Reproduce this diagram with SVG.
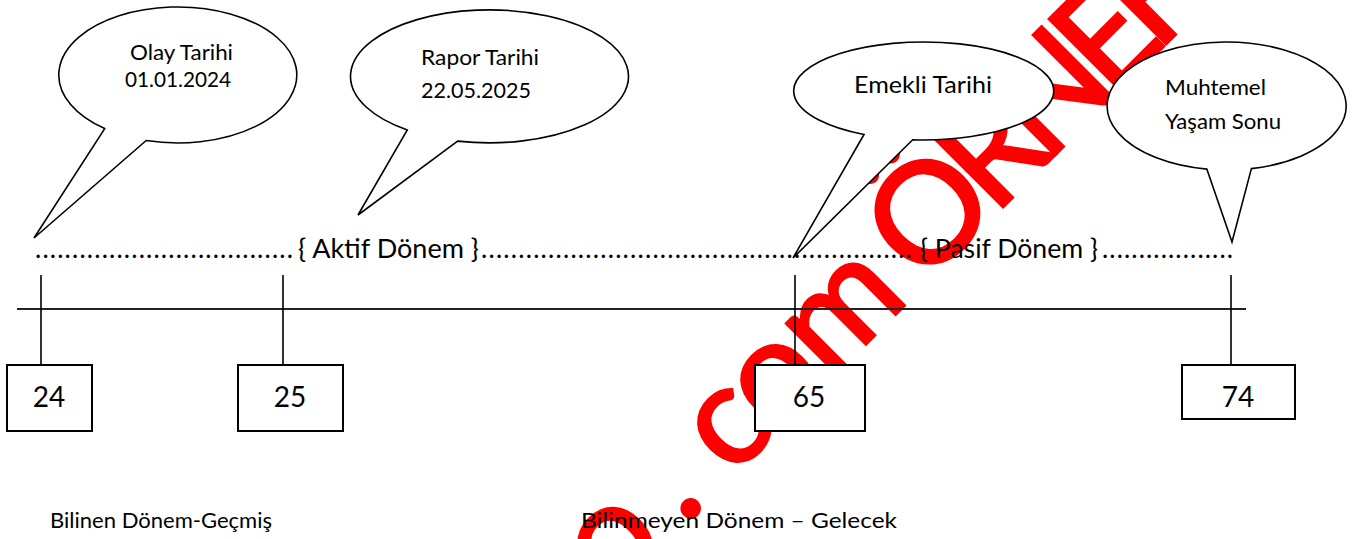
<svg xmlns="http://www.w3.org/2000/svg" width="1366" height="539" viewBox="0 0 1366 539">
  <style>
    .bal { fill: #fff; stroke: #000; stroke-width: 1.6; stroke-linejoin: miter; }
    .box { fill: #fff; stroke: #000; stroke-width: 2; }
    .ln { stroke: #000; stroke-width: 1.6; fill: none; }
    .tl { stroke: #222; stroke-width: 2; fill: none; }
    .t { font-family: Lato, "Liberation Sans", sans-serif; fill: #000; }
    .lbl { font-size: 22px; }
    .num { font-size: 28px; text-anchor: middle; }
    .per { font-size: 26.5px; }
    .bot { font-size: 22px; }
    .wm { font-family: Lato, "Liberation Sans", sans-serif; font-size: 140px; fill: #ff0000; stroke: #ff0000; stroke-width: 3; text-anchor: middle; }
  </style>
  <rect width="1366" height="539" fill="#fff"/>

  <g id="watermark">
    <text class="wm" transform="translate(605,605) rotate(-45)" x="50 129 213 280 375 440 506 594 677 756 827" y="0">o.com ÖRNEK</text>
  </g>

  <g id="connectors">
    <line class="tl" x1="17" y1="309" x2="1246" y2="309"/>
    <line class="ln" x1="41" y1="275" x2="41" y2="365"/>
    <line class="ln" x1="283" y1="275" x2="283" y2="365"/>
    <line class="ln" x1="795" y1="275" x2="795" y2="365"/>
    <line class="ln" x1="1231" y1="275" x2="1231" y2="365"/>
  </g>

  <g id="balloon-olay">
    <path class="bal" d="M146.2,140.5 L34,238 L104.7,128.6 A119,68 0 1 1 146.2,140.5 Z"/>
    <text class="t lbl" x="130" y="60" textLength="103" lengthAdjust="spacingAndGlyphs">Olay Tarihi</text>
    <text class="t lbl" x="125" y="87" textLength="106" lengthAdjust="spacingAndGlyphs">01.01.2024</text>
  </g>

  <g id="balloon-rapor">
    <path class="bal" d="M457.6,141.1 L358,215 L407.3,130 A139,66.5 0 1 1 457.6,141.1 Z"/>
    <text class="t lbl" x="421" y="65" textLength="118" lengthAdjust="spacingAndGlyphs">Rapor Tarihi</text>
    <text class="t lbl" x="421" y="98" textLength="110" lengthAdjust="spacingAndGlyphs">22.05.2025</text>
  </g>

  <g id="balloon-emekli">
    <path class="bal" d="M912.7,139.8 L793,258 L864,134.5 A130,49 0 1 1 912.7,139.8 Z"/>
    <text class="t" style="font-size:24px" x="854" y="93" textLength="138" lengthAdjust="spacingAndGlyphs">Emekli Tarihi</text>
  </g>

  <g id="balloon-muhtemel">
    <path class="bal" d="M1251.4,168.6 L1232,242 L1206.8,169.1 A119.5,64 0 1 1 1251.4,168.6 Z"/>
    <text class="t lbl" x="1165" y="95" textLength="101" lengthAdjust="spacingAndGlyphs">Muhtemel</text>
    <text class="t lbl" x="1165" y="129" textLength="116" lengthAdjust="spacingAndGlyphs">Yaşam Sonu</text>
  </g>

  <g id="period-line">
    <text class="t per" x="35" y="258" textLength="258" lengthAdjust="spacing">...................................</text>
    <text class="t per" x="298" y="258" textLength="181" lengthAdjust="spacingAndGlyphs">{ Aktif Dönem }</text>
    <text class="t per" x="481" y="258" textLength="431" lengthAdjust="spacing">..........................................................</text>
    <text class="t per" x="920" y="258" textLength="178" lengthAdjust="spacingAndGlyphs">{ Pasif Dönem }</text>
    <text class="t per" x="1102" y="258" textLength="131" lengthAdjust="spacing">..................</text>
  </g>

  <g id="box-24">
    <rect class="box" x="7" y="365" width="85" height="66"/>
    <text class="t num" x="49" y="407">24</text>
  </g>
  <g id="box-25">
    <rect class="box" x="238" y="365" width="105" height="66"/>
    <text class="t num" x="290" y="407">25</text>
  </g>
  <g id="box-65">
    <rect class="box" x="755" y="365" width="110" height="66"/>
    <text class="t num" x="809" y="407">65</text>
  </g>
  <g id="box-74">
    <rect class="box" x="1182" y="365" width="113" height="54"/>
    <text class="t num" x="1238" y="407">74</text>
  </g>

  <g id="legend">
    <text class="t bot" x="50" y="528" textLength="222" lengthAdjust="spacingAndGlyphs">Bilinen Dönem-Geçmiş</text>
    <text class="t bot" x="581" y="528" textLength="316" lengthAdjust="spacingAndGlyphs">Bilinmeyen Dönem – Gelecek</text>
  </g>
</svg>
